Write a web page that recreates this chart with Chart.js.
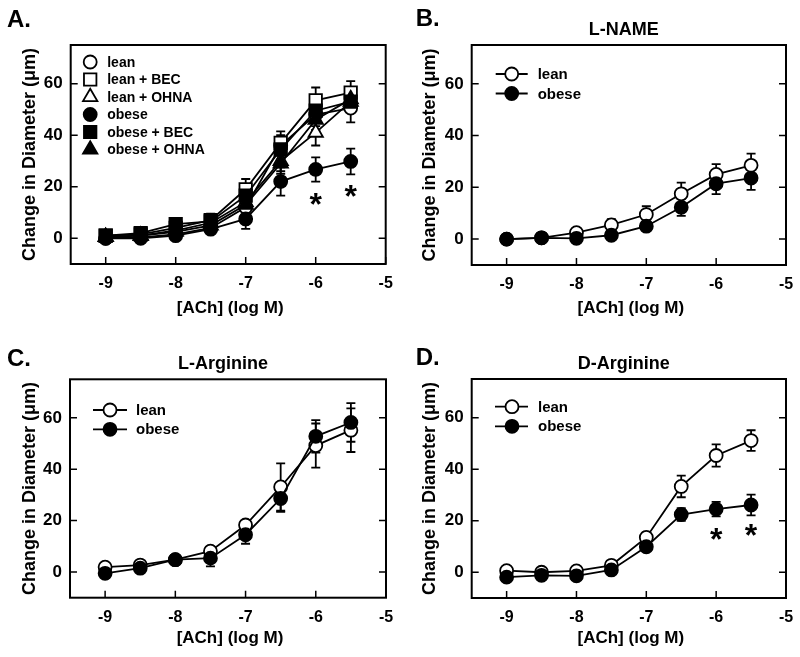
<!DOCTYPE html>
<html>
<head>
<meta charset="utf-8">
<script src="https://cdn.jsdelivr.net/npm/chart.js@4/dist/chart.umd.min.js"></script>
<style>
  html, body { margin: 0; padding: 0; background: #fff; }
  #wrap { position: relative; width: 800px; height: 657px; }
  canvas { position: absolute; }
</style>
</head>
<body>
<div id="wrap">
  <canvas id="cA" width="400" height="330" style="left:0;top:0"></canvas>
  <canvas id="cB" width="400" height="330" style="left:400px;top:0"></canvas>
  <canvas id="cC" width="400" height="327" style="left:0;top:330px"></canvas>
  <canvas id="cD" width="400" height="327" style="left:400px;top:330px"></canvas>
</div>
<script>
// ACh concentrations (log M) and axis ticks
const doses = [-9, -8.5, -8, -7.5, -7, -6.5, -6, -5.5];
const xTicks = [-9, -8, -7, -6, -5];
const yTicks = [0, 20, 40, 60];

// Panel A
const aLean = [0, 0.3, 1.5, 4, 12, 36, 48, 50.5];
const aLeanErr = [1, 1, 1, 1.5, 3, 4, 4.5, 5.5];
const aLeanBec = [1, 1.5, 4, 7, 19, 37, 53.5, 56.5];
const aLeanBecErr = [1, 1, 1.5, 2.5, 4, 4.5, 5, 4.5];
const aLeanOhna = [0.5, 1, 3, 6, 14, 30, 41, 53];
const aLeanOhnaErr = [1, 1, 1, 2, 3, 4, 5, 4];
const aObese = [0, 0, 1, 3.5, 7.5, 22, 26.7, 29.8];
const aObeseErr = [1, 1, 1, 1, 3.9, 5.5, 4.7, 5];
const aObeseBec = [1, 2, 5.5, 6.5, 16.5, 34.5, 49.5, 53];
const aObeseBecErr = [1, 1, 1, 2, 3, 4, 4, 4];
const aObeseOhna = [0.5, 1, 2.5, 5, 13, 29, 46, 54];
const aObeseOhnaErr = [1, 1, 1, 1.5, 3, 4, 4, 4];
const aStarX = [-6, -5.5];
const aStarY = [15.2, 18.4];

// Panel B (L-NAME)
const bLean = [0, 0.5, 2.5, 5.5, 9.5, 17.5, 25, 28.5];
const bLeanErr = [0.5, 0.8, 1.2, 2.2, 3.2, 4.3, 4, 4.5];
const bObese = [0, 0.5, 0.3, 1.5, 5, 12.3, 21.4, 23.6];
const bObeseErr = [0.5, 0.8, 0.8, 1, 1.8, 3.3, 4, 4.6];

// Panel C (L-Arginine)
const cLean = [1.9, 2.7, 4.8, 8.1, 18.3, 33.1, 49.2, 55.2];
const cLeanErr = [0.8, 0.8, 1, 1.8, 1.5, 9.2, 8.6, 8.5];
const cObese = [-0.5, 1.5, 4.8, 5.4, 14.5, 28.6, 52.8, 58.2];
const cObeseErr = [0.8, 1, 1, 3.2, 3.5, 5.2, 6.3, 7.5];

// Panel D (D-Arginine)
const dLean = [0.6, 0, 0.5, 2.7, 13.5, 33.3, 45.3, 51.1];
const dLeanErr = [0.6, 0.6, 0.6, 1, 2, 4.2, 4.3, 4];
const dObese = [-1.9, -1.2, -1.4, 0.9, 9.9, 22.4, 24.5, 26.1];
const dObeseErr = [0.8, 0.8, 0.8, 1, 1.5, 2.5, 2.8, 4];
const dStarX = [-6, -5.5];
const dStarY = [14.8, 16.4];

const FONT = '"Liberation Sans", Arial, Helvetica, sans-serif';
Chart.defaults.font.family = FONT;
Chart.defaults.color = '#000';

const markerSize = { circle: 6.5, rect: 8.8, triangle: 8.3 };

function drawMarker(ctx, shape, filled, x, y) {
  const r = markerSize[shape];
  ctx.beginPath();
  if (shape === 'circle') {
    ctx.arc(x, y, r, 0, Math.PI * 2);
  } else if (shape === 'rect') {
    const s = r * Math.SQRT1_2;
    ctx.rect(x - s, y - s, 2 * s, 2 * s);
  } else {
    let a = 0;
    ctx.moveTo(x + Math.sin(a) * r, y - Math.cos(a) * r);
    a += 2 * Math.PI / 3;
    ctx.lineTo(x + Math.sin(a) * r, y - Math.cos(a) * r);
    a += 2 * Math.PI / 3;
    ctx.lineTo(x + Math.sin(a) * r, y - Math.cos(a) * r);
    ctx.closePath();
  }
  ctx.fillStyle = filled ? '#000' : '#fff';
  ctx.fill();
  ctx.lineWidth = 1.8;
  ctx.strokeStyle = '#000';
  ctx.stroke();
}

const panelPlugin = {
  id: 'panel',
  beforeDatasetsDraw(chart) {
    // error bars first, so markers sit on top
    const ctx = chart.ctx, ys = chart.scales.y;
    ctx.save();
    ctx.strokeStyle = '#000';
    ctx.lineWidth = 1.8;
    chart.data.datasets.forEach((ds, i) => {
      const meta = chart.getDatasetMeta(i);
      meta.data.forEach((pt, j) => {
        const v = ds.data[j].y, e = ds.errors[j];
        const t = ys.getPixelForValue(v + e), b = ys.getPixelForValue(v - e);
        ctx.beginPath();
        ctx.moveTo(pt.x, t); ctx.lineTo(pt.x, b);
        ctx.moveTo(pt.x - 4.5, t); ctx.lineTo(pt.x + 4.5, t);
        ctx.moveTo(pt.x - 4.5, b); ctx.lineTo(pt.x + 4.5, b);
        ctx.stroke();
      });
    });
    ctx.restore();
  },
  afterDraw(chart, args, o) {
    const ctx = chart.ctx, a = chart.chartArea;
    const xs = chart.scales.x, ys = chart.scales.y;
    ctx.save();
    // frame
    ctx.strokeStyle = '#000';
    ctx.lineWidth = 2;
    ctx.strokeRect(a.left, a.top, a.right - a.left, a.bottom - a.top);
    // inward tick marks
    ctx.lineWidth = 1.5;
    ctx.beginPath();
    xTicks.forEach(v => {
      const px = xs.getPixelForValue(v);
      ctx.moveTo(px, a.bottom); ctx.lineTo(px, a.bottom - 7);
    });
    yTicks.forEach(v => {
      const py = ys.getPixelForValue(v);
      ctx.moveTo(a.left, py); ctx.lineTo(a.left + 7, py);
      ctx.moveTo(a.right, py); ctx.lineTo(a.right - 7, py);
    });
    ctx.stroke();

    // panel letter and title
    ctx.fillStyle = '#000';
    ctx.textBaseline = 'alphabetic';
    ctx.textAlign = 'left';
    ctx.font = 'bold 24px ' + FONT;
    ctx.fillText(o.letter, o.letterX, o.letterY);
    if (o.title) {
      ctx.textAlign = 'center';
      ctx.font = 'bold 18px ' + FONT;
      ctx.fillText(o.title, (a.left + a.right) / 2 - 5, a.top - 10);
    }

    // axis titles
    ctx.textAlign = 'center';
    ctx.textBaseline = 'middle';
    ctx.font = 'bold 17px ' + FONT;
    ctx.fillText('[ACh] (log M)', (a.left + a.right) / 2 + 2, 308);
    ctx.save();
    ctx.translate(30, (a.top + a.bottom) / 2);
    ctx.rotate(-Math.PI / 2);
    ctx.font = 'bold 18px ' + FONT;
    ctx.fillText('Change in Diameter (\u03bcm)', 0, 0);
    ctx.restore();

    // legend
    const lg = o.legend;
    chart.data.datasets.forEach((ds, i) => {
      const y = a.top + lg.top + i * lg.dy;
      if (lg.line) {
        ctx.beginPath();
        ctx.lineWidth = 1.8;
        ctx.strokeStyle = '#000';
        ctx.moveTo(a.left + lg.line[0], y);
        ctx.lineTo(a.left + lg.line[1], y);
        ctx.stroke();
      }
      drawMarker(ctx, ds.shape, ds.filled, a.left + lg.marker, y);
      ctx.fillStyle = '#000';
      ctx.textAlign = 'left';
      ctx.textBaseline = 'middle';
      ctx.font = 'bold ' + lg.size + 'px ' + FONT;
      ctx.fillText(ds.label, a.left + lg.text, y + 1);
    });

    // significance asterisks
    if (o.starX) {
      ctx.font = 'bold 32px ' + FONT;
      ctx.textAlign = 'center';
      ctx.textBaseline = 'alphabetic';
      const m = ctx.measureText('*');
      const off = (m.actualBoundingBoxAscent - m.actualBoundingBoxDescent) / 2;
      o.starX.forEach((v, k) => {
        ctx.fillText('*', xs.getPixelForValue(v), ys.getPixelForValue(o.starY[k]) + off);
      });
    }
    ctx.restore();
  }
};

function series(label, values, errors, shape, filled, order) {
  return {
    label, shape, filled, errors, order,
    data: values.map((v, i) => ({ x: doses[i], y: v })),
    borderColor: '#000',
    borderWidth: 1.8,
    tension: 0,
    pointStyle: shape,
    pointRadius: markerSize[shape],
    pointHoverRadius: markerSize[shape],
    pointBorderWidth: 1.8,
    pointBorderColor: '#000',
    pointBackgroundColor: filled ? '#000' : '#fff'
  };
}

function makePanel(id, area, datasets, extra) {
  const cv = document.getElementById(id);
  const W = cv.width, H = cv.height;
  return new Chart(cv, {
    type: 'line',
    data: { datasets },
    options: {
      responsive: false,
      devicePixelRatio: 1,
      animation: false,
      layout: { padding: { left: 0, bottom: 0, top: area.top, right: W - area.right } },
      scales: {
        x: {
          type: 'linear', min: -9.5, max: -5,
          afterBuildTicks: s => { s.ticks = xTicks.map(v => ({ value: v })); },
          afterFit: s => { s.height = H - area.bottom; s.paddingLeft = 0; s.paddingRight = 0; },
          grid: { display: false, drawTicks: false },
          border: { display: false },
          ticks: { padding: 10, font: { size: 16, weight: 'bold' }, color: '#000', maxRotation: 0 }
        },
        y: {
          type: 'linear', min: -10, max: 75,
          afterBuildTicks: s => { s.ticks = yTicks.map(v => ({ value: v })); },
          afterFit: s => { s.width = area.left; s.paddingTop = 0; s.paddingBottom = 0; },
          grid: { display: false, drawTicks: false },
          border: { display: false },
          ticks: { padding: 8, font: { size: 17, weight: 'bold' }, color: '#000' }
        }
      },
      plugins: {
        legend: { display: false },
        tooltip: { enabled: false },
        panel: extra
      }
    },
    plugins: [panelPlugin]
  });
}

makePanel('cA', { left: 70.7, right: 385.7, top: 45, bottom: 264 }, [
  series('lean', aLean, aLeanErr, 'circle', false, 5),
  series('lean + BEC', aLeanBec, aLeanBecErr, 'rect', false, 4),
  series('lean + OHNA', aLeanOhna, aLeanOhnaErr, 'triangle', false, 3),
  series('obese', aObese, aObeseErr, 'circle', true, 2),
  series('obese + BEC', aObeseBec, aObeseBecErr, 'rect', true, 1),
  series('obese + OHNA', aObeseOhna, aObeseOhnaErr, 'triangle', true, 0)
], { letter: 'A.', letterX: 7, letterY: 27,
     legend: { top: 17, dy: 17.5, marker: 19.5, text: 36.5, size: 14 },
     starX: aStarX, starY: aStarY });

makePanel('cB', { left: 71.7, right: 386, top: 45, bottom: 265 }, [
  series('lean', bLean, bLeanErr, 'circle', false, 1),
  series('obese', bObese, bObeseErr, 'circle', true, 0)
], { letter: 'B.', letterX: 15.7, letterY: 26, title: 'L-NAME',
     legend: { top: 29, dy: 19.5, line: [24, 56], marker: 40, text: 66, size: 15 } });

makePanel('cC', { left: 70, right: 386, top: 49.3, bottom: 267.7 }, [
  series('lean', cLean, cLeanErr, 'circle', false, 1),
  series('obese', cObese, cObeseErr, 'circle', true, 0)
], { letter: 'C.', letterX: 7, letterY: 36, title: 'L-Arginine',
     legend: { top: 30.7, dy: 19.3, line: [23, 57], marker: 40, text: 66, size: 15 } });

makePanel('cD', { left: 71.7, right: 386, top: 49, bottom: 268 }, [
  series('lean', dLean, dLeanErr, 'circle', false, 1),
  series('obese', dObese, dObeseErr, 'circle', true, 0)
], { letter: 'D.', letterX: 15.7, letterY: 35, title: 'D-Arginine',
     legend: { top: 27.7, dy: 19.6, line: [23.3, 56.3], marker: 40.3, text: 66.3, size: 15 },
     starX: dStarX, starY: dStarY });
</script>
</body>
</html>
